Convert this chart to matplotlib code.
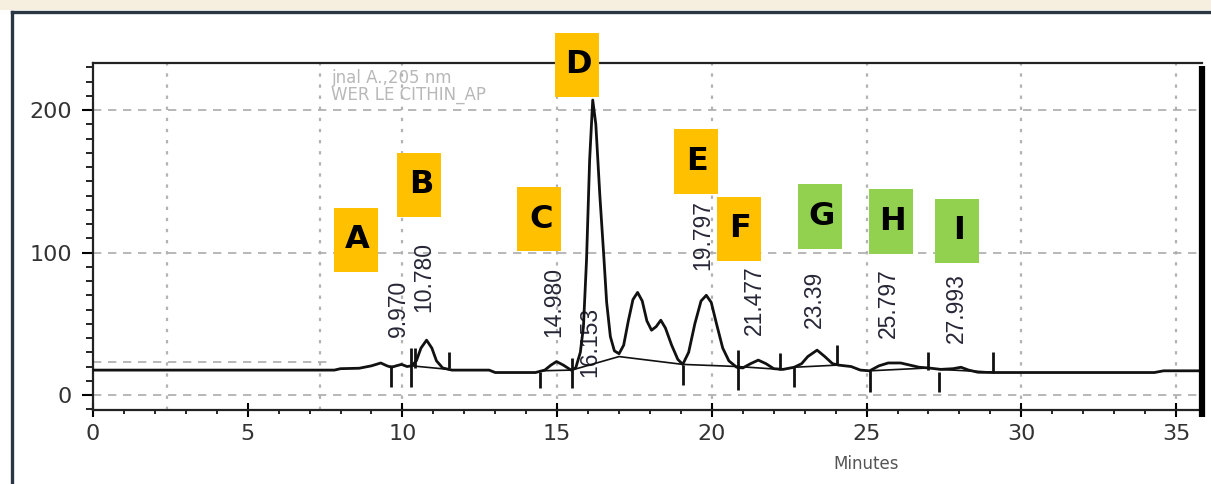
import matplotlib
matplotlib.use("Agg")
import matplotlib.pyplot as plt
from matplotlib.patches import Rectangle
from matplotlib.lines import Line2D
from matplotlib.ticker import MultipleLocator

# ---------------- data ----------------
time_min = [0.0, 7.8, 8.0, 8.6, 9.0, 9.3, 9.5, 9.65, 9.8, 9.97, 10.15, 10.3,
            10.45, 10.6, 10.78, 10.95, 11.1, 11.3, 11.6, 12.8, 13.0, 14.3,
            14.6, 14.8, 14.98, 15.2, 15.45, 15.6, 15.75, 15.85, 15.95, 16.05,
            16.15, 16.25, 16.38, 16.5, 16.6, 16.72, 16.85, 17.0, 17.15, 17.3,
            17.45, 17.6, 17.75, 17.9, 18.05, 18.2, 18.35, 18.5, 18.7, 18.9,
            19.06, 19.25, 19.45, 19.65, 19.82, 19.98, 20.15, 20.35, 20.55,
            20.8, 21.0, 21.25, 21.5, 21.75, 22.0, 22.3, 22.66, 22.9, 23.1,
            23.4, 23.65, 23.9, 24.1, 24.5, 24.8, 25.1, 25.4, 25.7, 26.1, 26.4,
            26.7, 27.0, 27.4, 27.8, 28.05, 28.3, 28.6, 29.1, 34.3, 34.6, 35.84]
signal = [17.5, 17.5, 18.5, 18.8, 20.5, 22.5, 20.5, 19.5, 20.5, 21.5, 20.0, 20.5,
          24.0, 33.0, 38.5, 33.0, 24.0, 19.0, 17.5, 17.5, 15.8, 15.8,
          17.5, 21.0, 23.5, 21.0, 17.5, 19.0, 30.0, 48.0, 95.0, 165.0,
          207.0, 190.0, 140.0, 100.0, 65.0, 41.0, 31.0, 29.0, 35.0, 52.0,
          67.0, 72.0, 66.0, 52.0, 45.5, 48.0, 52.5, 47.0, 35.0, 25.0,
          21.5, 30.0, 50.0, 66.0, 70.0, 65.0, 50.0, 33.0, 24.0,
          19.5, 19.0, 22.0, 24.5, 22.0, 18.5, 18.0, 19.5, 22.0, 27.0,
          31.5, 27.0, 22.0, 21.0, 20.0, 17.5, 17.0, 20.5, 22.5, 22.5, 21.0,
          19.5, 19.0, 18.0, 18.5, 19.5, 17.5, 16.0, 15.8, 15.8, 17.0, 17.0]

# integration baseline segments (time, level)
baseline_t = [[10.29, 11.5], [14.45, 15.47], [15.47, 17.0, 19.06], [19.06, 20.84],
              [20.84, 22.2], [22.66, 24.05], [25.1, 27.0], [27.35, 29.1]]
baseline_y = [[20.5, 18.0], [17.0, 17.5], [17.5, 27.0, 21.5], [21.5, 20.0],
              [20.0, 18.0], [19.5, 21.0], [17.0, 19.0], [18.0, 16.0]]

# start / end markers of integrated peaks
marker_rt = [9.64, 10.29, 10.42, 11.5, 14.45, 15.47, 19.06, 20.84, 22.2, 22.66,
             24.05, 25.1, 27.0, 27.35, 29.1]
marker_low = [5.6, 5.6, 19.0, 19.0, 4.9, 4.9, 7.0, 3.5, 17.5, 5.6,
              21.0, 2.0, 17.5, 2.0, 15.4]
marker_high = [21.1, 33.0, 33.0, 30.0, 16.1, 26.0, 21.0, 31.6, 29.5, 19.6,
               35.0, 17.5, 30.0, 16.0, 30.0]

# retention time labels
peak_rt = [9.970, 10.780, 14.980, 16.153, 19.797, 21.477, 23.39, 25.797, 27.993]
peak_labels = ["9.970", "10.780", "14.980", "16.153", "19.797", "21.477",
               "23.39", "25.797", "27.993"]
peak_label_base = [40.7, 58.2, 40.7, 12.6, 87.7, 42.1, 47.0, 40.0, 36.5]

# lettered call-outs
letters = ["A", "B", "C", "D", "E", "F", "G", "H", "I"]
letter_rt = [8.5, 10.55, 14.42, 15.65, 19.48, 20.87, 23.5, 25.78, 27.93]
letter_level = [108.8, 147.4, 123.5, 231.6, 163.9, 116.8, 125.3, 121.8, 115.4]
letter_group = ["orange"] * 6 + ["green"] * 3

x_ticks = [0, 5, 10, 15, 20, 25, 30, 35]
y_ticks = [0, 100, 200]
v_grid = [2.39, 7.35, 10, 15, 20, 25, 30, 35]
h_grid = [0, 100, 200]

# ---------------- figure ----------------
W, H = 1211, 484
fig = plt.figure(figsize=(W / 100, H / 100), dpi=100)
fig.patch.set_facecolor("white")

# page decoration (beige strip + dark frame)
fig.add_artist(Rectangle((0, 1 - 10 / H), 1, 10 / H, transform=fig.transFigure,
                         facecolor="#f6efdf", edgecolor="none"))
fig.add_artist(Line2D([12 / W, 12 / W], [0, 1 - 12 / H], transform=fig.transFigure,
                      color="#2b3645", lw=2.4))
fig.add_artist(Line2D([12 / W, 1], [1 - 12 / H, 1 - 12 / H], transform=fig.transFigure,
                      color="#2b3645", lw=2.4))

ax = fig.add_axes([93 / W, 1 - 410 / H, (1202 - 93) / W, (410 - 63) / H])
ax.set_xlim(0, 35.84)
ax.set_ylim(-10.5, 233)

# grid
for v in v_grid:
    ax.axvline(v, color="#b3b3b3", ls=(0, (1.5, 3.5)), lw=1.6, zorder=1)
for h in h_grid:
    ax.axhline(h, color="#ababab", ls=(0, (5, 4)), lw=1.2, zorder=1)
ax.plot([0, 7.6], [23.5, 23.5], color="#ababab", ls=(0, (5, 4)), lw=1.2, zorder=1)

# signal
ax.plot(time_min, signal, color="#111111", lw=2.0, zorder=4, solid_joinstyle="round")
for bt, by in zip(baseline_t, baseline_y):
    ax.plot(bt, by, color="#111111", lw=1.2, zorder=4)
ax.vlines(marker_rt, marker_low, marker_high, color="#111111", lw=2.0, zorder=4)

# retention time labels
for rt, lab, base in zip(peak_rt, peak_labels, peak_label_base):
    ax.text(rt + 0.12, base, lab, rotation=90, rotation_mode="anchor",
            ha="left", va="baseline", fontsize=16.5, family="Liberation Sans",
            color="#262636", zorder=3)

# lettered boxes
box_colors = {"orange": "#FFC000", "green": "#92D050"}
box_w, box_h = 1.42, 45.0
for L, t, lv, g in zip(letters, letter_rt, letter_level, letter_group):
    ax.add_patch(Rectangle((t - box_w / 2, lv - box_h / 2), box_w, box_h,
                           facecolor=box_colors[g], edgecolor="none",
                           clip_on=False, zorder=6))
    ax.text(t + 0.05, lv, L, ha="center", va="center", fontsize=23,
            fontweight="bold", family="DejaVu Sans", color="black",
            zorder=7, clip_on=False)

# faint header text
ax.text(7.69, 222.8, "jnal A.,205 nm", fontsize=12, color="#b8b8b8",
        va="center", ha="left", zorder=2)
ax.text(7.69, 210.2, "WER LE CITHIN_AP", fontsize=12, color="#b8b8b8",
        va="center", ha="left", zorder=2)

# axes styling
for s in ["left", "bottom", "top"]:
    ax.spines[s].set_linewidth(1.6)
    ax.spines[s].set_color("#222222")
ax.spines["right"].set_visible(False)
ax.plot([1, 1], [-0.02, 0.99], transform=ax.transAxes, color="black", lw=4.5,
        clip_on=False, zorder=8, solid_capstyle="butt")

ax.set_xticks(x_ticks)
ax.set_yticks(y_ticks)
ax.xaxis.set_minor_locator(MultipleLocator(1))
ax.yaxis.set_minor_locator(MultipleLocator(10))
ax.tick_params(axis="x", which="major", direction="inout", length=10, width=1.5,
               pad=5, labelsize=16, labelcolor="#333333")
ax.tick_params(axis="x", which="minor", direction="out", length=3, width=1.2)
ax.tick_params(axis="y", which="major", direction="out", length=8, width=1.5,
               pad=7, labelsize=16, labelcolor="#333333")
ax.tick_params(axis="y", which="minor", direction="out", length=5, width=1.2)

ax.set_xlabel("Minutes", fontsize=12, color="#555555")
ax.xaxis.set_label_coords(25 / 35.84, -0.13)

fig.savefig("out.png", dpi=100, facecolor="white")
